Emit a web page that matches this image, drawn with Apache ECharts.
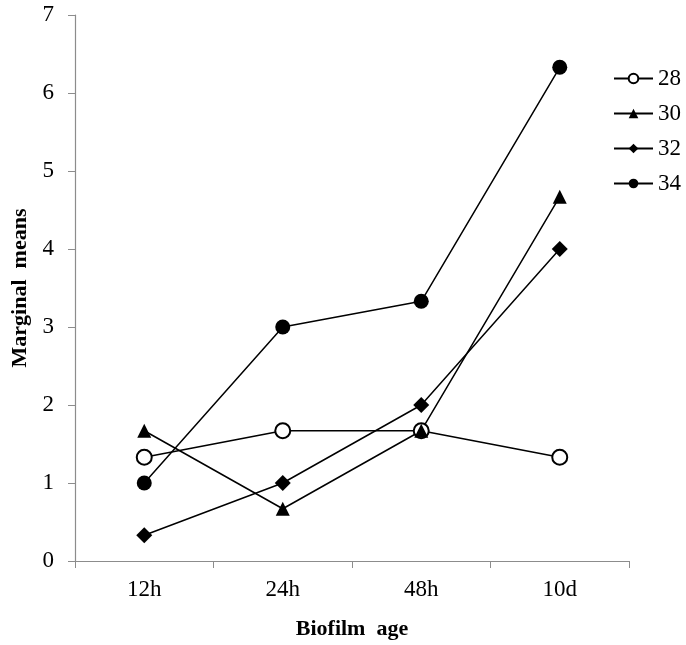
<!DOCTYPE html>
<html>
<head>
<meta charset="utf-8">
<script src="https://cdn.jsdelivr.net/npm/echarts@6/dist/echarts.min.js"></script>
<style>html,body{margin:0;padding:0;background:#fff}#c{width:686px;height:645px}</style>
</head>
<body>
<div id="c"></div>
<script>
const categories = ['12h', '24h', '48h', '10d'];
const s28 = [1.33, 1.67, 1.67, 1.33];
const s30 = [1.67, 0.67, 1.67, 4.67];
const s32 = [0.33, 1.0, 2.0, 4.0];
const s34 = [1.0, 3.0, 3.33, 6.33];
const yTicks = [0, 1, 2, 3, 4, 5, 6, 7];

const font = 'Liberation Serif';
function mk(name, data, symbol, size) {
  return {
    name: name, type: 'line', data: data, symbol: symbol, symbolSize: size,
    lineStyle: { color: '#000', width: 1.5 },
    itemStyle: { color: '#000', borderColor: '#000', borderWidth: symbol === 'emptyCircle' ? 1.3 : 0 },
    emphasis: { disabled: true }, animation: false
  };
}
const chart = echarts.init(document.getElementById('c'));
chart.setOption({
  backgroundColor: '#fff',
  animation: false,
  grid: { left: 75, right: 57, top: 15, bottom: 81, containLabel: false },
  legend: {
    orient: 'vertical', left: 613, top: 67, padding: 0, itemWidth: 39, itemHeight: 12, itemGap: 12,
    textStyle: { fontFamily: font, fontSize: 23, color: '#000' },
    data: ['28', '30', '32', '34']
  },
  xAxis: {
    type: 'category', data: categories, boundaryGap: true,
    name: 'Biofilm  age', nameLocation: 'middle', nameGap: 57,
    nameTextStyle: { fontFamily: font, fontSize: 22, fontWeight: 'bold', color: '#000' },
    axisLine: { lineStyle: { color: '#8c8c8c', width: 1.2 } },
    axisTick: { show: true, length: 7, alignWithLabel: false, lineStyle: { color: '#8c8c8c' } },
    axisLabel: { fontFamily: font, fontSize: 23, color: '#000', margin: 17 }
  },
  yAxis: {
    type: 'value', min: yTicks[0], max: yTicks[yTicks.length - 1], interval: 1,
    name: 'Marginal  means', nameLocation: 'middle', nameGap: 43, nameRotate: 90,
    nameTextStyle: { fontFamily: font, fontSize: 22, fontWeight: 'bold', color: '#000' },
    axisLine: { show: true, lineStyle: { color: '#8c8c8c', width: 1.2 } },
    axisTick: { show: true, length: 7, lineStyle: { color: '#8c8c8c' } },
    splitLine: { show: false },
    axisLabel: { fontFamily: font, fontSize: 23, color: '#000', margin: 21 }
  },
  series: [
    mk('28', s28, 'emptyCircle', 15),
    mk('30', s30, 'triangle', 14),
    mk('32', s32, 'diamond', 16),
    mk('34', s34, 'circle', 15)
  ]
});
</script>
</body>
</html>
